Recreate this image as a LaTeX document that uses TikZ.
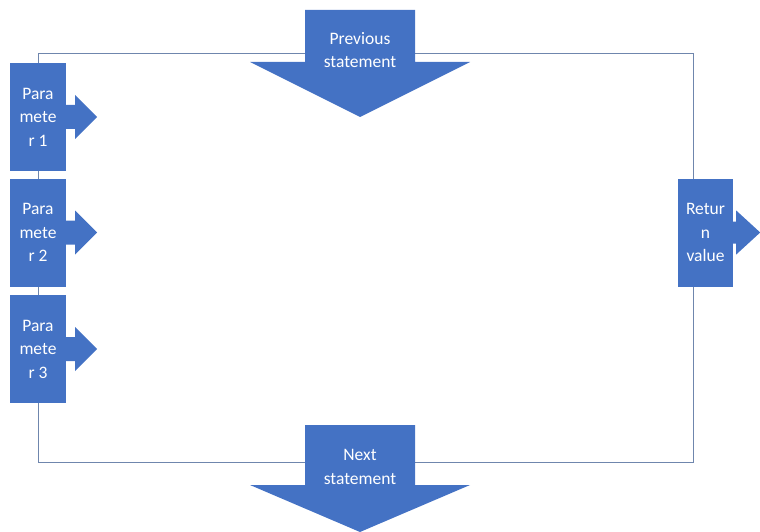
\documentclass[tikz,border=0pt]{standalone}
\usepackage{fontspec}
\setmainfont{Carlito}
\definecolor{fillblue}{HTML}{4472C4}
\definecolor{framecol}{HTML}{6F86AD}
\begin{document}
\begin{tikzpicture}[x=1pt,y=-1pt,
  blk/.style={fill=fillblue, draw=none, minimum width=56pt, minimum height=108pt},
  lbl/.style={text=white, font=\fontsize{17.5}{23.5}\selectfont, align=center, inner sep=0pt},
  frameline/.style={draw=framecol, line width=1pt}]
\useasboundingbox (0,0) rectangle (760,532);
% frame
\coordinate (ftl) at (38,54);
\coordinate (fbr) at (693,462);
\draw[frameline] (ftl) rectangle (fbr);
% top arrow
\fill[fillblue] (305,10) -- (415,10) -- (415,62) -- (470,62) -- (360,117) -- (250,62) -- (305,62) -- cycle;
\node[lbl] (prev) at (360,50) {Previous\\statement};
% bottom arrow
\fill[fillblue] (305,425) -- (415,425) -- (415,485) -- (470,485) -- (360,532) -- (250,485) -- (305,485) -- cycle;
\node[lbl] (next) at (360,467) {Next\\statement};
% parameters
\node[blk, lbl] (p1) at (38,117) {Para\\mete\\r 1};
\node[blk, lbl] (p2) at (38,232.5) {Para\\mete\\r 2};
\node[blk, lbl] (p3) at (38,349) {Para\\mete\\r 3};
\foreach \n in {p1,p2,p3}{
  \fill[fillblue, shift={(\n.east)}] (0,-12) -- (9,-12) -- (9,-22) -- (31,0) -- (9,22) -- (9,12) -- (0,12) -- cycle;
}
% return value
\node[blk, lbl, minimum width=55pt] (ret) at (705.5,232.5) {Retur\\n\\value};
\fill[fillblue, shift={(ret.east)}] (0,-11) -- (3,-11) -- (3,-22) -- (27,0) -- (3,22) -- (3,11) -- (0,11) -- cycle;
\end{tikzpicture}
\end{document}
